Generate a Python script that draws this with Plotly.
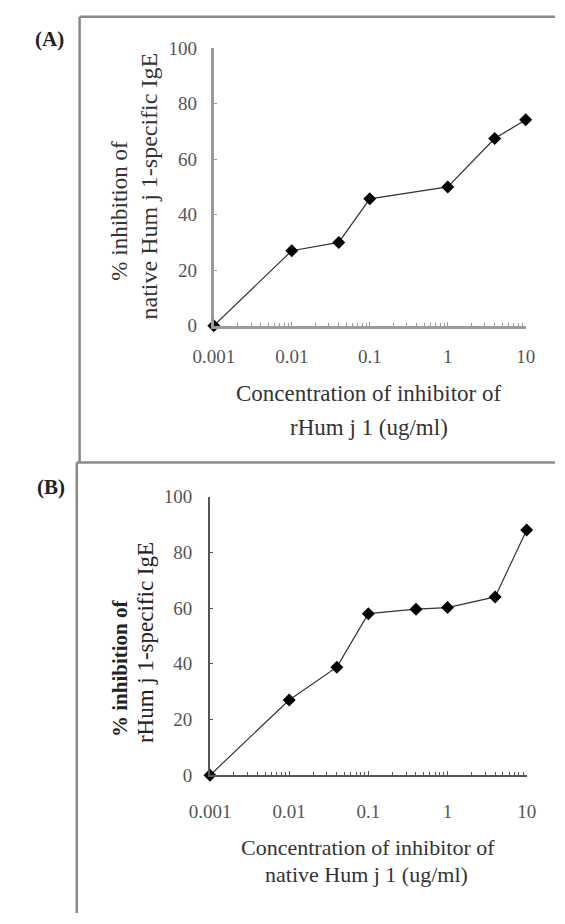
import plotly.graph_objects as go

# ---- data ----
conc_a = [0.001, 0.01, 0.04, 0.1, 1, 4, 10]
inhib_a = [0, 27, 30, 45.7, 50, 67.4, 74.2]

conc_b = [0.001, 0.01, 0.04, 0.1, 0.4, 1, 4, 10]
inhib_b = [0, 27, 38.8, 58, 59.6, 60.2, 64, 88]

x_tickvals = [0.001, 0.01, 0.1, 1, 10]
x_ticktext = ["0.001", "0.01", "0.1", "1", "10"]
y_tickvals = [0, 20, 40, 60, 80, 100]

W, H = 565, 924
def px(x):
    return x / W
def py(y):
    return 1 - y / H

minor_vals = [m * 10 ** e for e in range(-3, 1) for m in range(2, 10)]

FONT = "Liberation Serif"

fig = go.Figure()
fig.add_trace(go.Scatter(x=conc_a, y=inhib_a, mode="lines+markers",
                         line=dict(color="#333333", width=1.2),
                         marker=dict(symbol="diamond", size=10, color="#000000"),
                         cliponaxis=False, xaxis="x", yaxis="y", showlegend=False))
fig.add_trace(go.Scatter(x=conc_b, y=inhib_b, mode="lines+markers",
                         line=dict(color="#333333", width=1.2),
                         marker=dict(symbol="diamond", size=10, color="#000000"),
                         cliponaxis=False, xaxis="x2", yaxis="y2", showlegend=False))

def xaxis(domain, anchor, lc, lw, fs, stand):
    return dict(type="log", range=[-3, 1], domain=domain, anchor=anchor,
                tickvals=x_tickvals, ticktext=x_ticktext,
                showline=True, linecolor=lc, linewidth=lw,
                ticks="inside", ticklen=4, tickcolor=lc, tickwidth=1,
                minor=dict(tickvals=minor_vals, ticks="inside", ticklen=3,
                           tickcolor=lc, tickwidth=1, showgrid=False),
                showgrid=False, zeroline=False,
                tickfont=dict(family=FONT, size=fs, color="#555555"),
                ticklabelstandoff=stand)

def yaxis(domain, anchor, lc, lw, fs, stand):
    return dict(range=[0, 100], domain=domain, anchor=anchor,
                tickvals=y_tickvals,
                showline=True, linecolor=lc, linewidth=lw,
                ticks="inside", ticklen=3, tickcolor=lc,
                showgrid=False, zeroline=False,
                tickfont=dict(family=FONT, size=fs, color="#555555"),
                ticklabelstandoff=stand)

fig.update_layout(
    width=W, height=H,
    margin=dict(l=0, r=0, t=0, b=0),
    paper_bgcolor="white", plot_bgcolor="white",
    hovermode=False,
    xaxis=xaxis([px(204), px(534)], "y", "#9a9a9a", 3, 19, 12),
    yaxis=yaxis([py(323), py(39)], "x", "#9a9a9a", 3, 19, 10),
    xaxis2=xaxis([px(200), px(535)], "y2", "#555555", 2, 19, 18),
    yaxis2=yaxis([py(783), py(498)], "x2", "#555555", 2, 19, 12),
)

# panel frames
frame = dict(color="#8a8a8a", width=2.5)
shapes = [
    dict(type="line", xref="paper", yref="paper", x0=px(62), x1=px(62), y0=py(7), y1=py(463), line=frame),
    dict(type="line", xref="paper", yref="paper", x0=px(62), x1=1, y0=py(7), y1=py(7), line=frame),
    dict(type="line", xref="paper", yref="paper", x0=px(59), x1=1, y0=py(463), y1=py(463), line=frame),
    dict(type="line", xref="paper", yref="paper", x0=px(59), x1=px(59), y0=py(463), y1=0, line=frame),
]
fig.update_layout(shapes=shapes)

def ann(text, x, y, size, angle=0, bold=False, color="#333333"):
    if bold:
        text = "<b>" + text + "</b>"
    fig.add_annotation(text=text, x=px(x), y=py(y), xref="paper", yref="paper",
                       showarrow=False, textangle=angle, xanchor="center", yanchor="middle",
                       font=dict(family=FONT, size=size, color=color))

ann("(A)", 30, 30, 21, bold=True, color="#222222")
ann("(B)", 32, 488, 21, bold=True, color="#222222")

ann("Concentration of inhibitor of", 368, 392, 23)
ann("rHum j 1 (ug/ml)", 368, 427, 23)
ann("% inhibition of", 104, 205, 23, angle=-90)
ann("native Hum j 1-specific IgE", 135, 180, 24, angle=-90)

ann("Concentration of inhibitor of", 367, 857, 22)
ann("native Hum j 1 (ug/ml)", 366, 885, 22)
ann("% inhibition of", 104, 673, 21, angle=-90, bold=True, color="#222222")
ann("rHum j 1-specific IgE", 131, 647, 23, angle=-90, color="#222222")

fig.write_html("out.html",
               config={"displayModeBar": False, "staticPlot": True},
               post_script="document.body.style.margin='0';document.body.style.overflow='hidden';")
